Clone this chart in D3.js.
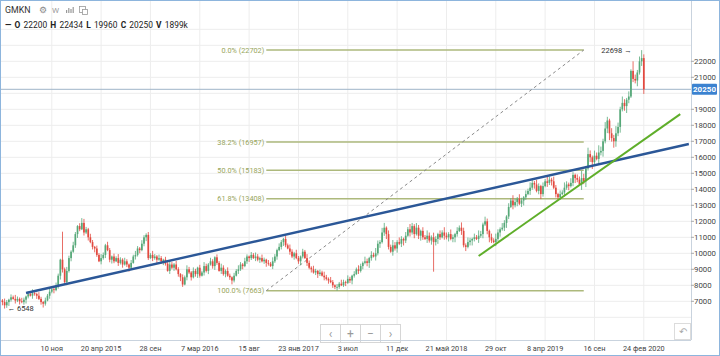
<!DOCTYPE html>
<html><head><meta charset="utf-8">
<script src="https://cdn.jsdelivr.net/npm/d3@7"></script>
<style>body{margin:0;background:#fff}svg{display:block;font-family:Roboto,"Liberation Sans",Arial,sans-serif}</style>
</head><body><svg id="c" width="720" height="356"></svg>
<script>
// ---------- DATA ----------
const ticker = "GMKN";
const firstWeek = "2014-05-26"; // weekly candles, one per week
const opens = [
7000,7050,6950,6750,6950,7100,7250,7150,7050,7150,
7000,6950,7100,7300,7450,7350,7500,7450,7350,7150,
6950,6850,7050,7350,7600,7750,7700,7950,8600,9600,
9000,8200,8900,9700,10100,10500,11200,11700,11500,11900,
11300,11500,11000,10700,10400,10300,9900,9500,9700,9900,
10500,10200,9600,9800,9500,9700,9400,9600,9300,9500,
9300,9100,9400,9800,9900,10300,10200,10600,11000,11150,
9700,9900,9700,9800,9600,9700,9500,9600,9350,8900,
9300,9100,9300,9000,8700,8500,8050,8500,9000,8800,
8500,8900,8700,9100,8600,8800,9200,8900,9300,9500,
9200,9750,9400,8900,9100,8700,8900,8600,8500,8300,
8600,8900,9000,9300,9200,9500,9800,9700,9900,9700,
9800,9600,9700,9500,9600,9400,9350,9200,9500,9800,
10200,10400,10700,10900,10500,10300,10100,9800,10000,9700,
9500,9800,10100,9700,9400,9100,9000,8800,8900,8700,
8800,8600,8500,8400,8300,8200,8000,7900,7900,8100,
8000,8200,8150,8400,8300,8600,8700,9000,8900,9200,
9400,9500,9400,9700,9900,9800,10000,10600,10700,11300,
11600,11200,10400,10100,10500,10300,10700,10600,10900,10800,
11100,11500,11300,11700,11200,11600,11100,11400,11000,10900,
11100,10800,11000,10700,10900,11200,11000,11300,11100,11000,
11200,10900,11000,11200,11400,11600,11400,10500,10400,10700,
10800,10900,11000,10900,11100,11200,11800,12000,11400,11000,
10800,10700,10900,11300,11500,11600,11900,12300,12900,13300,
13000,13200,13400,13100,13300,13500,13700,13900,14100,14400,
14300,13900,14200,13700,14200,14500,14400,14600,14500,14100,
13700,13500,13700,13800,14100,14300,14200,14400,14900,14700,
14600,14300,14700,14500,15300,16200,16000,15700,16100,15900,
16300,16400,17000,17800,18300,17500,17200,17000,17500,17900,
19000,19400,19200,19600,19800,21400,20900,20800,21300,22000,
22200];
const highs = [
7200,7140,7170,7080,7160,7430,7360,7400,7300,7240,
7220,7230,7360,7630,7560,7750,7650,7540,7570,7280,
7010,7230,7460,7850,7900,7840,8170,8730,9660,11350,
9110,9150,9850,10190,10720,11330,11760,11880,12200,12150,
11650,11590,11220,10830,10460,10480,10010,9950,10050,10590,
10720,10330,9860,9980,9810,9950,9750,9690,9720,9630,
9360,9580,9910,10150,10450,10390,10820,11130,11250,11330,
10010,10150,9950,9890,9920,9830,9660,9780,9460,9550,
9450,9390,9520,9130,8760,8680,8610,9250,9150,8890,
9120,9030,9160,9280,8910,9450,9350,9390,9720,9630,
9810,9930,9510,9350,9250,8990,9120,8730,8560,8780,
9010,9250,9450,9390,9720,9930,9860,10080,10010,10050,
9950,9790,9920,9730,9660,9580,9460,9750,9950,10290,
10620,10830,10960,11080,10610,10550,10250,10090,10220,9830,
9860,10280,10210,9950,9550,9190,9220,9030,8960,8980,
8910,8850,8650,8490,8520,8330,8060,8080,8210,8350,
8350,8290,8620,8530,8660,8880,9110,9250,9350,9490,
9790,9670,9780,10130,10040,10330,10800,10820,11590,11900,
11680,11430,10540,10830,10700,10820,10990,11070,10980,11330,
11640,11830,11900,11820,11890,11770,11480,11630,11140,11430,
11300,11120,11290,11070,11280,11430,11440,11630,11300,11320,
11490,11170,11280,11630,11740,11930,11600,10620,10990,10970,
10980,11230,11140,11430,11400,11920,12290,12170,11480,11230,
10940,11230,11500,11620,11890,12070,12380,13130,13440,13630,
13400,13520,13690,13470,13580,13930,14040,14430,14600,14520,
14590,14370,14280,14430,14640,14830,14800,14720,14790,14270,
13780,13930,13940,14430,14500,14420,14690,15070,14980,14930,
14800,15150,14970,15460,16600,16430,16110,16420,16300,16750,
16670,17160,18200,18530,18410,17820,17400,17950,18170,19160,
19800,19630,19710,20120,21500,22000,21170,21460,22300,22698,
22434];
const lows = [
6900,6750,6548,6590,6710,6980,7100,6860,6950,6800,
6880,6790,6860,7180,7300,7160,7350,7150,7080,6790,
6610,6730,7000,7160,7500,7500,7630,7790,8360,8800,
8100,8010,8800,9500,10030,10340,10960,11380,11450,11110,
11200,10800,10630,10240,10060,9780,9450,9310,9600,9700,
10130,9440,9360,9380,9450,9210,9300,9100,9230,9140,
8860,8980,9350,9610,9800,10000,10130,10440,10760,9580,
9650,9510,9600,9400,9530,9340,9260,9230,8850,8710,
9000,8900,8930,8540,8260,7900,8000,8310,8700,8300,
8430,8540,8460,8480,8550,8610,8800,8700,9230,9040,
8960,9280,8850,8710,8600,8500,8530,8340,8060,8180,
8550,8710,8900,9000,9130,9340,9460,9580,9650,9510,
9500,9400,9430,9340,9160,9230,9150,9010,9400,9600,
10130,10240,10460,10380,10250,9910,9700,9600,9630,9340,
9260,9680,9650,9210,9000,8800,8730,8640,8460,8580,
8550,8310,8300,8100,8130,7840,7760,7663,7780,7950,
7900,7950,8080,8140,8060,8480,8650,8710,8800,9000,
9310,9190,9090,9540,9740,9550,9870,10340,10610,11090,
10890,10240,10030,9850,10170,10040,10510,10390,10490,10640,
11030,11050,11170,10940,11110,10890,10790,10840,10830,10650,
10670,10540,8850,10490,10590,10840,10930,10850,10870,10740,
10810,10690,10690,11040,11330,11150,10370,10140,10310,10490,
10490,10740,10830,10650,10970,10940,11710,11190,10690,10640,
10630,10450,10770,11040,11410,11390,11590,12140,12830,12750,
12870,12940,13010,12890,12990,13340,13630,13650,13970,14040,
13810,13690,13390,13540,14130,14150,14270,14240,14010,13490,
13350,13340,13630,13550,13970,13940,14110,14190,14390,14440,
14210,13960,14320,14140,15170,15710,15270,15480,15810,15560,
16120,16040,16870,17510,17070,16980,16600,16660,17320,17540,
18870,18910,18770,19380,19710,20700,20620,20440,21170,21710,
19960];
const closes = [
7050,6950,6750,6950,7100,7250,7150,7050,7150,7000,
6950,7100,7300,7450,7350,7500,7450,7350,7150,6950,
6850,7050,7350,7600,7750,7700,7950,8600,9600,9000,
8200,8900,9700,10100,10500,11200,11700,11500,11900,11300,
11500,11000,10700,10400,10300,9900,9500,9700,9900,10500,
10200,9600,9800,9500,9700,9400,9600,9300,9500,9300,
9100,9400,9800,9900,10300,10200,10600,11000,11150,9700,
9900,9700,9800,9600,9700,9500,9600,9350,8900,9300,
9100,9300,9000,8700,8500,8050,8500,9000,8800,8500,
8900,8700,9100,8600,8800,9200,8900,9300,9500,9200,
9750,9400,8900,9100,8700,8900,8600,8500,8300,8600,
8900,9000,9300,9200,9500,9800,9700,9900,9700,9800,
9600,9700,9500,9600,9400,9350,9200,9500,9800,10200,
10400,10700,10900,10500,10300,10100,9800,10000,9700,9500,
9800,10100,9700,9400,9100,9000,8800,8900,8700,8800,
8600,8500,8400,8300,8200,8000,7900,7900,8100,8000,
8200,8150,8400,8300,8600,8700,9000,8900,9200,9400,
9500,9400,9700,9900,9800,10000,10600,10700,11300,11600,
11200,10400,10100,10500,10300,10700,10600,10900,10800,11100,
11500,11300,11700,11200,11600,11100,11400,11000,10900,11100,
10800,11000,10700,10900,11200,11000,11300,11100,11000,11200,
10900,11000,11200,11400,11600,11400,10500,10400,10700,10800,
10900,11000,10900,11100,11200,11800,12000,11400,11000,10800,
10700,10900,11300,11500,11600,11900,12300,12900,13300,13000,
13200,13400,13100,13300,13500,13700,13900,14100,14400,14300,
13900,14200,13700,14200,14500,14400,14600,14500,14100,13700,
13500,13700,13800,14100,14300,14200,14400,14900,14700,14600,
14300,14700,14500,15300,16200,16000,15700,16100,15900,16300,
16400,17000,17800,18300,17500,17200,17000,17500,17900,19000,
19400,19200,19600,19800,21400,20900,20800,21300,22000,22200,
20250];
const volumeLabel = "1899k";
const tickDates  = ["2014-11-10","2015-04-20","2015-09-28","2016-03-07","2016-08-15","2017-01-23","2017-07-03","2017-12-11","2018-05-21","2018-10-29","2019-04-08","2019-09-16","2020-02-24"];
const tickLabels = ["10 ноя","20 апр 2015","28 сен","7 мар 2016","15 авг","23 янв 2017","3 июл","11 дек","21 май 2018","29 окт","8 апр 2019","16 сен","24 фев 2020"];
const priceTicks = [7000,8000,9000,10000,11000,12000,13000,14000,15000,16000,17000,18000,19000,20000,21000,22000];
const gridPrices = [6000,7000,8000,9000,10000,11000,12000,13000,14000,15000,16000,17000,18000,19000,20000,21000,22000,23000,24000];
const fibLabels = ["0.0%","38.2%","50.0%","61.8%","100.0%"];
const fibValues = [22702,16957,15183,13408,7663];
const fibDates = ["2016-10-10","2019-08-12"];
const blueTrend = [["2014-08-18",7520],["2020-07-20",16830]];
const greenTrend = [["2018-09-03",9830],["2020-06-22",18700]];
const maxMark = {date:"2020-02-17", value:22698};
const minMark = {date:"2014-06-09", value:6548};

// ---------- CHART ----------
const W = 720, H = 356, plotR = 691, plotB = 340;
const svg = d3.select("#c");
const parse = d3.utcParse("%Y-%m-%d");
const t0 = parse(firstWeek);
const dates = closes.map((_, i) => d3.utcWeek.offset(t0, i));
const x = d3.scaleUtc().domain([t0, dates[dates.length - 1]]).range([0.3, 643.8]);
const y = d3.scaleLinear().domain([7000, 22000]).range([301.3, 61.3]);

svg.append("rect").attr("width", W).attr("height", H).attr("fill", "#fff");
svg.append("defs").append("clipPath").attr("id", "plot").append("rect")
  .attr("x", 0).attr("y", 0).attr("width", plotR).attr("height", plotB);

const g = svg.append("g").attr("clip-path", "url(#plot)");

// grid
g.selectAll("line.hg").data(gridPrices).join("line")
  .attr("x1", 0).attr("x2", plotR).attr("y1", d => y(d)).attr("y2", d => y(d))
  .attr("stroke", "#ededed").attr("stroke-width", 1);
g.selectAll("line.vg").data(tickDates).join("line")
  .attr("x1", d => x(parse(d))).attr("x2", d => x(parse(d))).attr("y1", 0).attr("y2", plotB)
  .attr("stroke", "#ededed").attr("stroke-width", 1);

// last price line
g.append("line").attr("x1", 0).attr("x2", plotR).attr("y1", y(closes[closes.length-1])).attr("y2", y(closes[closes.length-1]))
  .attr("stroke", "#9fb4c8").attr("stroke-width", 1);

// fib
const fx1 = x(parse(fibDates[0])), fx2 = x(parse(fibDates[1]));
g.selectAll("line.fib").data(fibValues).join("line")
  .attr("x1", fx1).attr("x2", fx2).attr("y1", d => y(d)).attr("y2", d => y(d))
  .attr("stroke", "#adb97c").attr("stroke-width", 1.5);
g.selectAll("text.fib").data(fibValues).join("text")
  .attr("x", fx1 - 2).attr("y", d => y(d) + 2.6).attr("text-anchor", "end")
  .attr("font-size", 7.3).attr("fill", "#97a55a")
  .text((d, i) => `${fibLabels[i]} (${d})`);
g.append("line").attr("x1", fx1).attr("y1", y(fibValues[4])).attr("x2", fx2).attr("y2", y(fibValues[0]))
  .attr("stroke", "#8a8a8a").attr("stroke-width", 1).attr("stroke-dasharray", "3,3");

// candles
const up = "#56a878", dn = "#e2493f";
const cg = g.append("g");
cg.selectAll("line").data(closes).join("line")
  .attr("x1", (d, i) => x(dates[i])).attr("x2", (d, i) => x(dates[i]))
  .attr("y1", (d, i) => y(highs[i])).attr("y2", (d, i) => y(lows[i]))
  .attr("stroke", (d, i) => d >= opens[i] ? up : dn).attr("stroke-width", 0.8);
cg.selectAll("rect").data(closes).join("rect")
  .attr("x", (d, i) => x(dates[i]) - 0.85).attr("width", 1.7)
  .attr("y", (d, i) => y(Math.max(d, opens[i])))
  .attr("height", (d, i) => Math.max(0.8, Math.abs(y(d) - y(opens[i]))))
  .attr("fill", (d, i) => d >= opens[i] ? up : dn);

// trend lines
const tl = d3.line().x(d => x(parse(d[0]))).y(d => y(d[1]));
g.append("path").attr("d", tl(blueTrend)).attr("stroke", "#2b5797").attr("stroke-width", 2.4).attr("fill", "none");
g.append("path").attr("d", tl(greenTrend)).attr("stroke", "#5fae2a").attr("stroke-width", 2).attr("fill", "none");

// extreme marks
g.append("text").attr("x", x(parse(maxMark.date)) - 10).attr("y", y(maxMark.value) + 2.5)
  .attr("text-anchor", "end").attr("font-size", 7.5).attr("fill", "#333").text(maxMark.value + " \u2192");
g.append("text").attr("x", x(parse(minMark.date)) + 3).attr("y", y(minMark.value) + 2.5)
  .attr("font-size", 7.5).attr("fill", "#333").text("\u2190 " + minMark.value);

// nav buttons
const nav = svg.append("g");
nav.append("rect").attr("x", 320.5).attr("y", 324.5).attr("width", 80).attr("height", 18).attr("fill", "#fff").attr("stroke", "#d6d6d6");
[340.5, 360.5, 380.5].forEach(v => nav.append("line").attr("x1", v).attr("x2", v).attr("y1", 324.5).attr("y2", 342.5).attr("stroke", "#d6d6d6"));
["\u2039", "+", "\u2212", "\u203A"].forEach((s, i) => nav.append("text").attr("x", 330.5 + i * 20).attr("y", 338).attr("text-anchor", "middle")
  .attr("font-size", 12).attr("fill", "#9a9a9a").text(s));
nav.append("rect").attr("x", 674.5).attr("y", 323.5).attr("width", 16).attr("height", 16).attr("fill", "#fff").attr("stroke", "#dcdcdc");
nav.append("text").attr("x", 682.5).attr("y", 335).attr("text-anchor", "middle").attr("font-size", 10).attr("fill", "#aaa").text("\u21B6");

// axes frames
svg.append("line").attr("x1", plotR + 0.5).attr("x2", plotR + 0.5).attr("y1", 0).attr("y2", plotB).attr("stroke", "#c9d3de");
svg.append("line").attr("x1", 0).attr("x2", plotR).attr("y1", plotB + 0.5).attr("y2", plotB + 0.5).attr("stroke", "#c9d3de");

// price axis
const lastY = y(closes[closes.length - 1]);
const pa = svg.append("g");
pa.selectAll("line").data(priceTicks.filter(d => Math.abs(y(d) - lastY) > 8)).join("line")
  .attr("x1", plotR).attr("x2", plotR + 3).attr("y1", d => y(d)).attr("y2", d => y(d)).attr("stroke", "#aaa");
pa.selectAll("text").data(priceTicks.filter(d => Math.abs(y(d) - lastY) > 8)).join("text")
  .attr("x", plotR + 3).attr("y", d => y(d) + 2.7).attr("font-size", 7.8).attr("fill", "#444").text(d => d);
pa.append("rect").attr("x", plotR + 1).attr("y", lastY - 5.5).attr("width", 25).attr("height", 11).attr("rx", 1).attr("fill", "#3b82d0");
pa.append("text").attr("x", plotR + 13.5).attr("y", lastY + 3).attr("text-anchor", "middle").attr("font-size", 8).attr("font-weight", "bold")
  .attr("fill", "#fff").text(closes[closes.length - 1]);

// time axis
svg.selectAll("text.xt").data(tickDates).join("text")
  .attr("x", d => x(parse(d))).attr("y", 351).attr("text-anchor", "middle")
  .attr("font-size", 7.3).attr("fill", "#444").text((d, i) => tickLabels[i]);

// header
const hd = svg.append("g");
hd.append("text").attr("x", 5).attr("y", 13).attr("font-size", 8.8).attr("fill", "#333").text(ticker);
hd.append("text").attr("x", 39).attr("y", 13).attr("font-size", 9).attr("fill", "#888").text("\u2699");
hd.append("text").attr("x", 52).attr("y", 13).attr("font-size", 8).attr("fill", "#999").text("W");
[0,1,2,3].forEach(k => hd.append("rect").attr("x", 66 + k * 2.2).attr("y", 13 - [3,5,4,6][k]).attr("width", 1.2).attr("height", [3,5,4,6][k]).attr("fill", "#999"));
hd.append("rect").attr("x", 79.5).attr("y", 6.5).attr("width", 6).attr("height", 6).attr("fill", "none").attr("stroke", "#999").attr("stroke-width", 0.8);
hd.append("rect").attr("x", 82.5).attr("y", 9.5).attr("width", 5).attr("height", 5).attr("fill", "#fff").attr("stroke", "#999").attr("stroke-width", 0.8);
const last = closes.length - 1;
const parts = [["\u2014", true], ["O", true], [String(opens[last]), false], ["H", true], [String(highs[last]), false], ["L", true], [String(lows[last]), false], ["C", true], [String(closes[last]), false], ["V", true], [volumeLabel, false]];
const ht = hd.append("text").attr("x", 5).attr("y", 28).attr("font-size", 8.4).attr("fill", "#222");
parts.forEach(([s, b], i) => ht.append("tspan").attr("dx", i ? 3.2 : 0).attr("font-weight", b ? "bold" : "normal").text(s));

// outer frame
svg.append("rect").attr("x", 0.5).attr("y", 0.5).attr("width", W - 1).attr("height", H - 1).attr("fill", "none").attr("stroke", "#8db5dd");
</script></body></html>
